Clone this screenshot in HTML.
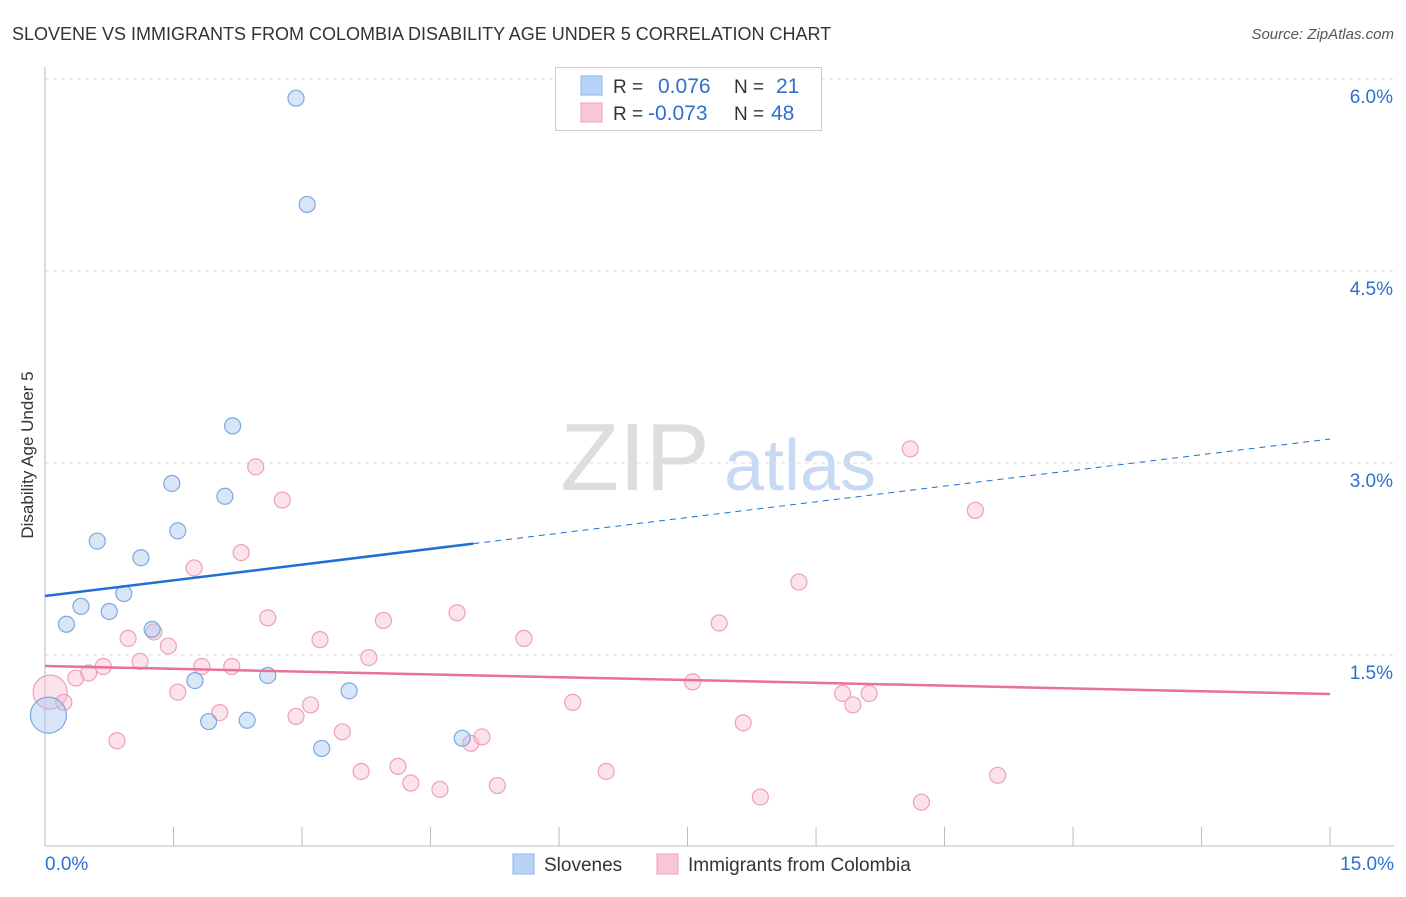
<!DOCTYPE html>
<html><head><meta charset="utf-8"><style>
body{margin:0;background:#fff;font-family:"Liberation Sans",sans-serif;}
svg text{font-family:"Liberation Sans",sans-serif;}
</style></head><body>
<svg id="c" width="1406" height="892" viewBox="0 0 1406 892" xmlns="http://www.w3.org/2000/svg">
<text x="12" y="40" font-size="18" fill="#333">SLOVENE VS IMMIGRANTS FROM COLOMBIA DISABILITY AGE UNDER 5 CORRELATION CHART</text>
<text x="1394" y="39" font-size="15" fill="#555" font-style="italic" text-anchor="end">Source: ZipAtlas.com</text>
<text transform="translate(33,455) rotate(-90)" font-size="17" fill="#333" text-anchor="middle">Disability Age Under 5</text>
<g><text x="635" y="490" font-size="96" fill="#ddd" font-family="Liberation Serif" text-anchor="middle">ZIP</text><text x="800" y="490" font-size="72" fill="#c8daf3" text-anchor="middle">atlas</text></g>
<g id="grid"></g><g id="axes"></g><g id="marks"></g><g id="lines"></g>
<g>
<rect x="555.5" y="67.5" width="266" height="63" fill="#fff" stroke="#ccc"/>
<rect x="581" y="76" width="21" height="19" fill="#b9d3f6" stroke="#8ab4e8"/>
<rect x="581" y="103" width="21" height="19" fill="#f9c6d6" stroke="#eea0b8"/>
<text x="613" y="93" font-size="19" fill="#333">R =</text><text x="658" y="93" font-size="21" fill="#2f6fcf">0.076</text>
<text x="734" y="93" font-size="19" fill="#333">N =</text><text x="776" y="93" font-size="21" fill="#2f6fcf">21</text>
<text x="613" y="120" font-size="19" fill="#333">R =</text><text x="648" y="120" font-size="21" fill="#2f6fcf">-0.073</text>
<text x="734" y="120" font-size="19" fill="#333">N =</text><text x="771" y="120" font-size="21" fill="#2f6fcf">48</text>
</g>
<g>
<rect x="513" y="854" width="21" height="20" fill="#b9d3f6" stroke="#8ab4e8"/>
<text x="544" y="871" font-size="19" fill="#333">Slovenes</text>
<rect x="657" y="854" width="21" height="20" fill="#f9c6d6" stroke="#eea0b8"/>
<text x="688" y="871" font-size="19" fill="#333">Immigrants from Colombia</text>
</g>
</svg>
<script>
const yTicks=[1.5,3.0,4.5,6.0];
const yTickLabels=["1.5%","3.0%","4.5%","6.0%"];
const xLabels=["0.0%","15.0%"];
const blueX=[2.93,3.06,2.19,1.48,2.10,1.55,0.61,1.12,0.92,0.42,0.75,0.25,1.25,1.75,2.60,3.55,1.91,2.36,3.23,4.87,0.04];
const blueY=[5.85,5.02,3.29,2.84,2.74,2.47,2.39,2.26,1.98,1.88,1.84,1.74,1.70,1.30,1.34,1.22,0.98,0.99,0.77,0.85,1.03];
const blueR=[8,8,8,8,8,8,8,8,8,8,8,8,8,8,8,8,8,8,8,8,18];
const pinkX=[0.06,0.22,0.36,0.51,0.68,0.84,0.97,1.11,1.27,1.44,1.55,1.74,1.83,2.04,2.18,2.29,2.46,2.60,2.77,2.93,3.10,3.21,3.47,3.69,3.78,3.95,4.12,4.27,4.61,4.81,4.97,5.10,5.28,5.59,6.16,6.55,7.56,7.87,8.15,8.35,8.80,9.31,9.43,9.62,10.10,10.23,10.86,11.12];
const pinkY=[1.21,1.13,1.32,1.36,1.41,0.83,1.63,1.45,1.68,1.57,1.21,2.18,1.41,1.05,1.41,2.30,2.97,1.79,2.71,1.02,1.11,1.62,0.90,0.59,1.48,1.77,0.63,0.50,0.45,1.83,0.81,0.86,0.48,1.63,1.13,0.59,1.29,1.75,0.97,0.39,2.07,1.20,1.11,1.20,3.11,0.35,2.63,0.56];
const blueTrend=[1.961,3.1875];
const pinkTrend=[1.414,1.195];
const blueSolidEnd=5.0;
const X=v=>45+v*85.67, Y=v=>847-v*128;
const NS="http://www.w3.org/2000/svg";
function mk(t,a,p){const e=document.createElementNS(NS,t);for(const k in a)e.setAttribute(k,a[k]);p.appendChild(e);return e;}
const grid=document.getElementById('grid'),axes=document.getElementById('axes'),marks=document.getElementById('marks'),lines=document.getElementById('lines');
yTicks.forEach((t,i)=>{
 const l=mk('line',{x1:45,x2:1394,y1:Y(t),y2:Y(t),stroke:'#ddd','stroke-dasharray':'4,4'},grid);
 
 
 const tx=mk('text',{x:1393,y:Y(t)+24,'font-size':19,fill:'#2f6fcf','text-anchor':'end'},axes);
 tx.textContent=yTickLabels[i];
 
 
});
let a=mk('line',{x1:45,x2:45,y1:67,y2:846,stroke:'#bbb'},axes);


a=mk('line',{x1:45,x2:1394,y1:846,y2:846,stroke:'#bbb'},axes);


for(let i=0;i<=10;i++){const t=mk('line',{x1:X(i*1.5),x2:X(i*1.5),y1:827,y2:846,stroke:'#bbb'},axes);
 
 }
[[0,'start',45],[15,'end',1394]].forEach((d,i)=>{const t=mk('text',{x:d[2],y:870,'font-size':19,fill:'#2f6fcf','text-anchor':d[1]},axes);t.textContent=xLabels[i];
 
 });
pinkX.forEach((v,i)=>{const c=mk('circle',{cx:X(v),cy:Y(pinkY[i]),r:i==0?17:8,fill:'rgba(248,190,210,0.45)',stroke:'#eea0b8','stroke-width':1.2},marks);
 
 });
blueX.forEach((v,i)=>{const c=mk('circle',{cx:X(v),cy:Y(blueY[i]),r:blueR[i],fill:'rgba(168,200,240,0.45)',stroke:'#7aa8e0','stroke-width':1.2},marks);
 
 });
const bY=v=>blueTrend[0]+(blueTrend[1]-blueTrend[0])*v/15;
let l=mk('line',{x1:X(0),y1:Y(bY(0)),x2:X(blueSolidEnd),y2:Y(bY(blueSolidEnd)),stroke:'#1f6fd6','stroke-width':2.5},lines);


l=mk('line',{x1:X(blueSolidEnd),y1:Y(bY(blueSolidEnd)),x2:X(15),y2:Y(bY(15)),stroke:'#1f6fd6','stroke-width':1,'stroke-dasharray':'6,5'},lines);


l=mk('line',{x1:X(0),y1:Y(pinkTrend[0]),x2:X(15),y2:Y(pinkTrend[1]),stroke:'#e8709a','stroke-width':2.5},lines);


</script>
</body></html>
